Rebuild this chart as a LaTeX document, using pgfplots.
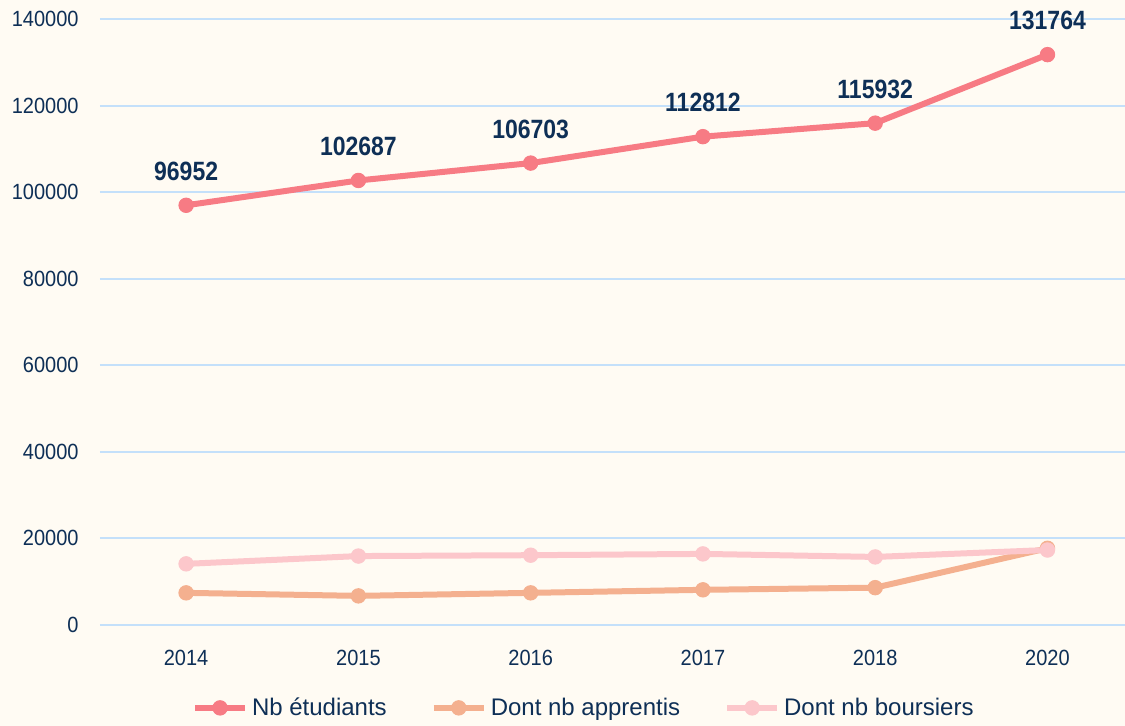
\documentclass[border=0pt]{standalone}
\usepackage{fontspec}
\setmainfont{Liberation Sans}
\usepackage{pgfplots}
\pgfplotsset{compat=1.18}
\definecolor{bg}{HTML}{FFFBF3}
\definecolor{gridc}{HTML}{C4E0FA}
\definecolor{navy}{HTML}{0E2F56}
\definecolor{cetu}{HTML}{F77B84}
\definecolor{capp}{HTML}{F4B08F}
\definecolor{cbou}{HTML}{FCC7CB}
\begin{document}
\begin{tikzpicture}
\fill[bg] (-50pt,-50.5pt) rectangle (512.6pt,312.5pt);
\begin{axis}[
    at={(0,0)}, anchor=south west,
    scale only axis, width=512.6pt, height=303pt,
    xmin=-0.5, xmax=5.45, ymin=0, ymax=140000,
    clip=false,
    axis line style={draw=none},
    major tick length=0pt,
    xtick={0,...,5},
    xticklabels={2014,2015,2016,2017,2018,2020},
    ytick={0,20000,...,140000},
    scaled y ticks=false,
    /pgf/number format/fixed,
    /pgf/number format/precision=0,
    /pgf/number format/1000 sep={},
    /pgf/number format/assume math mode=true,
    ymajorgrids,
    grid style={color=gridc, line width=1pt},
    tick label style={font=\fontsize{10}{12}\selectfont, text=navy, yscale=1.1},
    yticklabel style={inner sep=0pt, xshift=-10.5pt},
    xticklabel style={inner sep=0pt, yshift=-11.5pt},
    legend columns=3,
    legend style={draw=none, fill=none, at={(0.473,-0.137)}, anchor=center,
        font=\fontsize{12}{14}\selectfont, text=navy,
        /tikz/every even column/.append style={column sep=20pt}},
    legend image code/.code={\draw[mark repeat=2,mark phase=2,#1]
        plot coordinates {(0pt,0pt) (12.5pt,0pt) (25pt,0pt)};},
    every axis plot/.append style={line width=3pt, mark=*, mark size=3.6pt},
]
\addplot[color=cetu, mark options={fill=cetu, line width=0.5pt},
    nodes near coords, point meta=explicit symbolic,
    every node near coord/.append style={font=\bfseries\fontsize{11.5}{13}\selectfont,
        text=navy, anchor=south, inner sep=0pt, yshift=12pt, yscale=1.15}]
coordinates {
    (0,96952)[96952]
    (1,102687)[102687]
    (2,106703)[106703]
    (3,112812)[112812]
    (4,115932)[115932]
    (5,131764)[131764]
};
\addlegendentry{Nb étudiants}
\addplot[color=capp, mark options={fill=capp, line width=0.5pt}]
coordinates {
    (0,7400)
    (1,6700)
    (2,7400)
    (3,8100)
    (4,8600)
    (5,17700)
};
\addlegendentry{Dont nb apprentis}
\addplot[color=cbou, mark options={fill=cbou, line width=0.5pt}]
coordinates {
    (0,14100)
    (1,15900)
    (2,16100)
    (3,16400)
    (4,15700)
    (5,17300)
};
\addlegendentry{Dont nb boursiers}
\end{axis}
\pgfresetboundingbox
\path[use as bounding box] (-50pt,-50.5pt) rectangle (512.6pt,312.5pt);
\end{tikzpicture}
\end{document}
